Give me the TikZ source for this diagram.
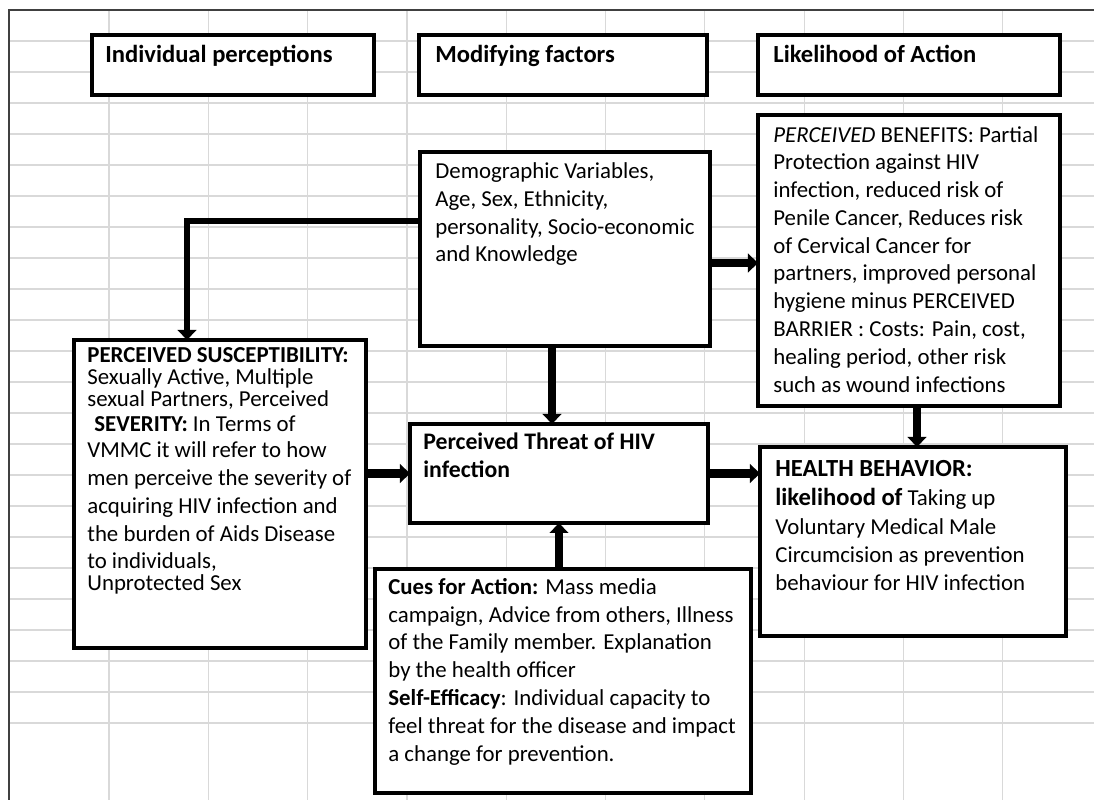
\documentclass[tikz,border=0pt]{standalone}
\usepackage{fontspec}
\setmainfont{Carlito}
\usetikzlibrary{arrows.meta}
\tikzset{
  box/.style={draw, line width=2.3pt, fill=white, anchor=north west, inner sep=0pt, outer sep=0pt},
  txt/.style={anchor=base west, align=left, inner sep=0pt, font=\fontsize{13}{15.8}\selectfont},
  hdr/.style={anchor=base west, inner sep=0pt, font=\bfseries\fontsize{14}{16}\selectfont},
  arr/.style={line width=5pt, -{Triangle[length=5.7pt,width=10.5pt]}},
  cell/.style={gray!30, line width=0.7pt},
}
\begin{document}
\begin{tikzpicture}[x=0.02cm, y=-0.02cm]
\useasboundingbox (0,0) rectangle (1094,800);

\foreach \y in {0,...,22}
{
    \draw[cell] (9,41+31*\y) -- (1094,41+31*\y);
}
\foreach \x in {0,...,9}
{
    \draw[cell] (109+99.3*\x,10) -- (109+99.3*\x,800);
}
\draw[black!75, line width=0.8pt] (9,800) -- (9,10) -- (1094,10);

\node[box, minimum width=5.64cm, minimum height=1.2cm] (hdrA) at (92,35) {};
\node[box, minimum width=5.76cm, minimum height=1.2cm] (hdrB) at (419,35) {};
\node[box, minimum width=6.04cm, minimum height=1.2cm] (hdrC) at (758,35) {};
\node[box, minimum width=5.8cm, minimum height=3.88cm] (demo) at (420,152) {};
\node[box, minimum width=6.04cm, minimum height=5.82cm] (bene) at (758,115) {};
\node[box, minimum width=5.84cm, minimum height=6.16cm] (susc) at (74,340) {};
\node[box, minimum width=5.96cm, minimum height=1.98cm] (threat) at (410,424) {};
\node[box, minimum width=6.12cm, minimum height=3.78cm] (health) at (760,447) {};
\node[box, minimum width=7.52cm, minimum height=4.48cm] (cues) at (375,569) {};

\node[hdr] (tA) at (105,63) {Individual perceptions};
\node[hdr] (tB) at (435,63) {Modifying factors};
\node[hdr] (tC) at (773,63) {Likelihood of Action};

% multi-line texts sit on the baseline of their last line
\node[txt] (tDemo) at (435,262) {Demographic Variables,\\ Age, Sex, Ethnicity,\\ personality, Socio-economic\\ and Knowledge};
\node[txt] (tBene) at (773,392) {\textit{PERCEIVED} BENEFITS: Partial\\ Protection against HIV\\ infection, reduced risk of\\ Penile Cancer, Reduces risk\\ of Cervical Cancer for\\ partners, improved personal\\ hygiene minus PERCEIVED\\ BARRIER : Costs: Pain, cost,\\ healing period, other risk\\ such as wound infections};
\node[txt] (tSusc) at (87,590) {\textbf{PERCEIVED SUSCEPTIBILITY:}\\[-3.6pt] Sexually Active, Multiple\\[-3.3pt] sexual Partners, Perceived\\[-1.6pt] \hspace{4pt}\textbf{SEVERITY:} In Terms of\\[-0.5pt] VMMC it will refer to how\\ men perceive the severity of\\ acquiring HIV infection and\\ the burden of Aids Disease\\[-0.5pt] to individuals,\\[-3.3pt] Unprotected Sex};
\node[txt, font=\bfseries\fontsize{13.5}{15.8}\selectfont] (tThreat) at (423,477) {Perceived Threat of HIV\\ infection};
\node[txt] (tCues) at (388,761) {\textbf{Cues for Action:} Mass media\\ campaign, Advice from others, Illness\\ of the Family member. Explanation\\ by the health officer\\ \textbf{Self-Efficacy}: Individual capacity to\\ feel threat for the disease and impact\\ a change for prevention.};
\node[txt] (tHealth) at (775,590) {{\bfseries\fontsize{14}{15.8}\selectfont HEALTH BEHAVIOR:}\\[0.7pt] {\bfseries\fontsize{14}{15.8}\selectfont likelihood of} Taking up\\[0.7pt] Voluntary Medical Male\\ Circumcision as prevention\\ behaviour for HIV infection};

\coordinate (bend) at (187,221);
\draw[arr, line width=3.6pt] (bend -| demo.west) -- (bend) -- (bend |- susc.north);
\draw[arr] (demo.east |- 0,263) -- (bene.west |- 0,263);
\draw[arr] (552,0 |- demo.south) -- (552,0 |- threat.north);
\draw[arr] (threat.west -| susc.east) -- (threat.west);
\draw[arr] (threat.south |- cues.north) -- (threat.south);
\draw[arr] (threat.east) -- (threat.east -| health.west);
\draw[arr] (917,0 |- bene.south) -- (917,0 |- health.north);

\end{tikzpicture}
\end{document}
